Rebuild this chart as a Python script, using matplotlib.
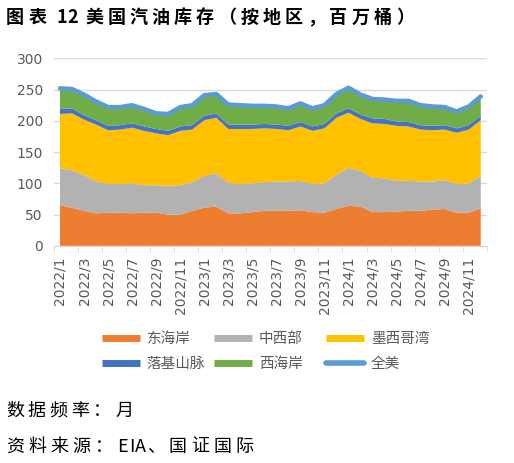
import matplotlib
matplotlib.use('agg')
import matplotlib.pyplot as plt
from matplotlib.lines import Line2D

plt.rcParams['font.family'] = ['Noto Sans CJK SC', 'DejaVu Sans']

# 月份
months = []
for y in [2022, 2023, 2024]:
    for m in range(1, 13):
        months.append('%d/%d' % (y, m))

east = [65, 61, 56, 52, 53, 53, 52, 53, 53, 50, 50, 56, 61, 63, 52, 52, 54, 56,
        56, 56, 57, 54, 53, 59, 64, 63, 54, 54, 55, 56, 56, 58, 59, 53, 53, 60]
midwest = [59, 60, 57, 51, 46, 46, 48, 44, 44, 46, 47, 46, 51, 53, 49, 47, 46, 46,
           47, 47, 47, 45, 47, 55, 61, 57, 55, 54, 49, 48, 47, 45, 46, 46, 47, 52]
gulf = [87, 91, 89, 91, 86, 87, 89, 87, 83, 81, 87, 84, 89, 89, 86, 88, 87, 86,
        84, 82, 87, 85, 88, 91, 88, 83, 87, 87, 88, 87, 83, 82, 81, 82, 86, 89]
rockies = [8, 8, 7, 7, 7, 7, 7, 7, 7, 7, 7, 7, 7, 7, 7, 7, 7, 7,
           7, 7, 7, 7, 7, 7, 7, 7, 8, 8, 7, 7, 7, 7, 7, 7, 7, 7]
west = [33, 31, 33, 30, 30, 29, 29, 28, 25, 27, 31, 32, 33, 31, 32, 31, 30, 29,
        29, 28, 30, 29, 30, 31, 33, 32, 31, 31, 33, 34, 32, 31, 29, 27, 30, 31]
total = [252, 251, 242, 231, 222, 222, 225, 219, 212, 211, 222, 225, 241, 243, 226, 225, 224, 224,
         223, 220, 228, 220, 225, 243, 253, 242, 235, 234, 232, 232, 225, 223, 222, 215, 223, 239]

names = ['东海岸', '中西部', '墨西哥湾', '落基山脉', '西海岸', '全美']
colors = ['#ED7D31', '#B2B2B2', '#FFC000', '#4472C4', '#70AD47', '#5B9BD5']

fig = plt.figure(figsize=(5.14, 4.63), dpi=100)
ax = fig.add_axes([0.105, 0.469, 0.842, 0.405])

x = list(range(len(months)))
ax.stackplot(x, east, midwest, gulf, rockies, west, colors=colors[:5], linewidth=0)
ax.plot(x, total, color=colors[5], linewidth=3.2, solid_capstyle='round', solid_joinstyle='round')

ax.set_xlim(-0.5, len(months) - 0.5)
ax.set_ylim(0, 300)
ax.set_yticks(range(0, 301, 50))
ax.yaxis.grid(True, color='#D9D9D9', linewidth=1)
ax.set_axisbelow(True)
for s in ['left', 'right', 'top']:
    ax.spines[s].set_visible(False)
ax.spines['bottom'].set_color('#D9D9D9')
ax.tick_params(axis='y', length=0, labelsize=10, labelcolor='#595959', pad=8)

ax.set_xticks(x[::2])
ax.set_xticklabels(months[::2], rotation=90, fontsize=10, color='#595959', family='DejaVu Sans')
ax.set_xticks([i - 0.5 for i in range(0, len(months) + 1, 2)], minor=True)
ax.tick_params(axis='x', which='major', length=0, pad=8)
ax.tick_params(axis='x', which='minor', length=4, color='#D9D9D9')
for lab in ax.get_yticklabels():
    lab.set_family('DejaVu Sans')

handles = []
for i in range(5):
    handles.append(Line2D([], [], color=colors[i], linewidth=5, solid_capstyle='butt'))
handles.append(Line2D([], [], color=colors[5], linewidth=4, solid_capstyle='round'))

# 图例分三列，列宽相等
col_x = [0.1735, 0.3914, 0.6093]
for c in range(3):
    leg = fig.legend([handles[c], handles[c + 3]], [names[c], names[c + 3]],
                     loc='center left', bbox_to_anchor=(col_x[c], 0.24),
                     frameon=False, fontsize=10.5, handlelength=2.6,
                     labelspacing=0.75, handletextpad=0.45)
    for t in leg.get_texts():
        t.set_color('#595959')


def spaced(fx, fy, s, size, gap, **kw):
    # 逐字放置，模拟字间距
    r = fig.canvas.get_renderer()
    px = fx * fig.bbox.width
    for ch in s:
        if ch == ' ':
            px += size * 0.45
            continue
        t = fig.text(px / fig.bbox.width, fy, ch, fontsize=size, va='center', ha='left', **kw)
        w = t.get_window_extent(renderer=r).width
        px += w + (gap if ord(ch) > 127 else 0.8)


spaced(0.012, 0.962, '图表 12 美国汽油库存（按地区，百万桶）', 13, 4.2, fontweight='bold', color='black')
spaced(0.012, 0.112, '数据频率：月', 13, 3.8, color='black')
spaced(0.012, 0.035, '资料来源：EIA、国证国际', 13, 4.2, color='black')

fig.savefig('out.png', dpi=100)
